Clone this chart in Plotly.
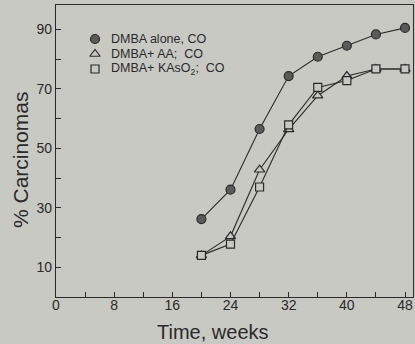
import plotly.graph_objects as go

weeks = [20, 24, 28, 32, 36, 40, 44, 48]
dmba_alone = [26.2, 36.1, 56.5, 74.3, 80.8, 84.5, 88.3, 90.5]
dmba_aa = [14.0, 20.4, 42.8, 56.4, 67.7, 74.3, 76.7, 76.7]
dmba_kaso2 = [14.0, 17.8, 37.0, 57.9, 70.5, 72.8, 76.7, 76.7]

names = ["DMBA alone, CO", "DMBA+ AA;  CO", "DMBA+ KAsO<sub>2</sub>;  CO"]
x_ticks = [0, 8, 16, 24, 32, 40, 48]
y_ticks = [10, 30, 50, 70, 90]
x_title = "Time, weeks"
y_title = "% Carcinomas"

BG = "#c9c9c4"
INK = "#2a2a2a"
FONT = "Liberation Sans"

W, H = 415, 344
ML, MR, MT, MB = 56, 2, 5, 47
PW, PH = W - ML - MR, H - MT - MB


def px_x(px):
    return (px - ML) / PW


def px_y(py):
    return 1 - (py - MT) / PH


series = [dmba_alone, dmba_aa, dmba_kaso2]
markers = [
    dict(symbol="circle", size=9, color="#5a5a58", line=dict(color=INK, width=1.2)),
    dict(symbol="triangle-up", size=9, color=BG, line=dict(color=INK, width=1.2)),
    dict(symbol="square", size=8, color=BG, line=dict(color=INK, width=1.2)),
]

fig = go.Figure()
for name, vals, mk in zip(names, series, markers):
    fig.add_trace(go.Scatter(
        x=weeks, y=vals, name=name, mode="lines+markers",
        line=dict(color=INK, width=1.1), marker=mk, showlegend=False))

# custom legend (markers on an overlay axis spanning the plot area)
leg_rows = [39, 54, 69]
for name, mk, row in zip(names, markers, leg_rows):
    fig.add_trace(go.Scatter(
        x=[px_x(95)], y=[px_y(row)], mode="markers", marker=mk,
        xaxis="x2", yaxis="y2", showlegend=False, hoverinfo="skip"))
    fig.add_annotation(text=name, xref="paper", yref="paper",
                       x=px_x(109), y=px_y(row), xanchor="left",
                       yanchor="middle", showarrow=False,
                       font=dict(size=12.5, color=INK, family=FONT))

fig.add_annotation(text=x_title, xref="paper", yref="paper",
                   x=px_x(213), y=px_y(332), xanchor="center", yanchor="middle",
                   showarrow=False, font=dict(size=20, color=INK, family=FONT))
fig.add_annotation(text=y_title, xref="paper", yref="paper", textangle=-90,
                   x=px_x(20), y=px_y(160), xanchor="center", yanchor="middle",
                   showarrow=False, font=dict(size=21, color=INK, family=FONT))

fig.update_layout(
    width=W, height=H,
    margin=dict(l=ML, r=MR, t=MT, b=MB, autoexpand=False),
    paper_bgcolor=BG, plot_bgcolor=BG,
    font=dict(family=FONT, color=INK, size=14),
    showlegend=False,
    xaxis=dict(range=[0, 49.1], tickvals=x_ticks, ticks="inside", ticklen=5,
               tickcolor=INK, showline=True, linecolor=INK, linewidth=1.3,
               mirror=True, showgrid=False, zeroline=False, automargin=False,
               tickfont=dict(size=14), ticklabelstandoff=-5,
               minor=dict(tickvals=list(range(0, 49, 4)), ticks="inside",
                          ticklen=5, tickcolor=INK)),
    yaxis=dict(range=[0, 98.2], tickvals=y_ticks, ticks="inside", ticklen=5,
               tickcolor=INK, showline=True, linecolor=INK, linewidth=1.3,
               mirror=True, showgrid=False, zeroline=False, automargin=False,
               tickfont=dict(size=14),
               minor=dict(tickvals=list(range(0, 99, 10)), ticks="inside",
                          ticklen=5, tickcolor=INK)),
    xaxis2=dict(range=[0, 1], overlaying="x", visible=False, fixedrange=True),
    yaxis2=dict(range=[0, 1], overlaying="y", visible=False, fixedrange=True),
)

fig.write_html(
    "out.html",
    config={"displayModeBar": False},
    post_script="document.body.style.margin='0';document.body.style.background='" + BG + "';",
)
